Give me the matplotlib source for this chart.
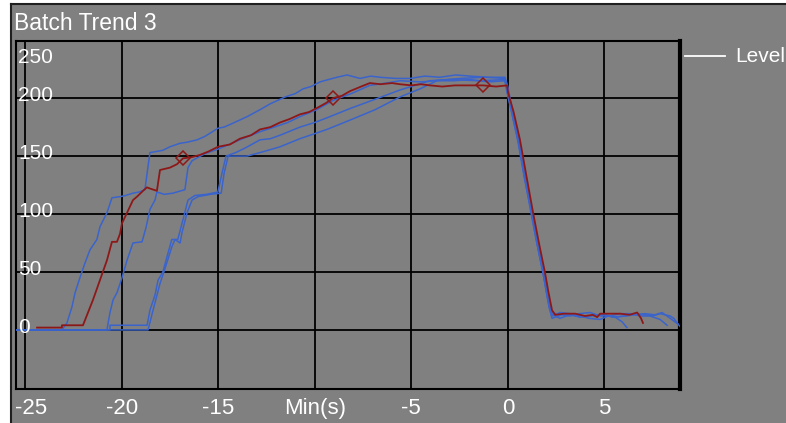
import matplotlib
matplotlib.use("Agg")
import matplotlib.pyplot as plt
from matplotlib.patches import Rectangle
from matplotlib.lines import Line2D
from matplotlib.transforms import blended_transform_factory

# ---- data -------------------------------------------------------------
title = "Batch Trend 3"
legend_label = "Level"

x_ticks = [-25, -20, -15, -10, -5, 0, 5]
x_labels = ["-25", "-20", "-15", "Min(s)", "-5", "0", "5"]
y_ticks = [0, 50, 100, 150, 200, 250]
y_labels = ["0", "50", "100", "150", "200", "250"]

# current batch (x in minutes, level)
red_pts = [(-24.39, 2), (-23.10, 2), (-23.10, 4), (-22.01, 4), (-21.75, 15), (-21.49, 26),
           (-21.13, 43), (-20.77, 60), (-20.51, 76), (-20.25, 76), (-20.09, 83), (-19.99, 92),
           (-19.73, 101), (-19.42, 112), (-19.21, 115), (-18.90, 120), (-18.70, 123), (-18.54, 122),
           (-18.18, 120), (-18.02, 138), (-17.51, 140), (-17.14, 143), (-16.83, 148), (-16.40, 149),
           (-15.95, 151), (-15.50, 154), (-15.02, 158), (-14.40, 160), (-13.88, 165), (-13.30, 168),
           (-12.84, 173), (-12.30, 175), (-11.80, 179), (-11.30, 182), (-10.77, 186), (-10.30, 188),
           (-9.83, 192), (-9.40, 196), (-9.06, 200), (-8.60, 202), (-8.18, 206), (-7.60, 210),
           (-7.15, 213), (-6.60, 212), (-6.00, 213), (-5.59, 212), (-5.00, 211), (-4.50, 212),
           (-4.03, 211), (-3.40, 210), (-2.74, 211), (-2.00, 211), (-1.28, 211), (-0.60, 210),
           (-0.04, 211), (0.01, 205), (0.30, 188), (0.63, 164), (0.95, 134), (1.31, 101),
           (1.60, 76), (1.93, 49), (2.10, 33), (2.29, 17), (2.45, 13), (2.90, 14), (3.49, 14),
           (4.00, 12), (4.40, 13), (4.63, 11), (4.78, 14), (5.30, 14), (5.82, 14), (6.30, 13),
           (6.70, 15), (6.90, 10), (7.00, 6)]
red_marks = [(-16.83, 148), (-9.06, 200), (-1.28, 211)]

# earlier batches
blue_a = [(-25.45, 0), (-23.10, 0), (-22.84, 6), (-22.58, 20), (-22.42, 32), (-22.17, 45),
          (-21.90, 58), (-21.65, 69), (-21.29, 78), (-21.13, 89), (-20.77, 101), (-20.51, 114),
          (-20.09, 115), (-19.80, 116), (-19.42, 118), (-19.10, 119), (-18.80, 121), (-18.69, 135),
          (-18.54, 153), (-18.20, 154), (-17.87, 155), (-17.51, 158), (-16.99, 161), (-16.60, 162),
          (-16.10, 164), (-15.69, 167), (-15.02, 174), (-14.70, 175), (-14.29, 178), (-13.90, 181),
          (-13.51, 184), (-12.84, 190), (-12.32, 195), (-11.54, 201), (-11.00, 204), (-10.61, 208),
          (-10.20, 210), (-9.73, 214), (-9.30, 216), (-8.85, 218), (-8.33, 220), (-7.66, 217),
          (-7.10, 219), (-6.62, 218), (-5.80, 217), (-5.07, 217), (-4.30, 219), (-3.51, 218),
          (-2.70, 220), (-1.96, 219), (-1.00, 218), (-0.15, 218), (0.00, 210), (0.53, 164),
          (0.85, 133), (1.20, 101), (1.50, 75), (1.82, 49), (2.00, 33), (2.19, 17), (2.34, 12),
          (2.70, 15), (3.22, 14), (3.70, 11), (4.26, 12), (4.98, 13), (5.50, 11), (6.07, 12),
          (6.60, 14), (7.11, 13), (7.50, 12), (7.89, 14), (8.41, 12), (8.60, 10), (8.77, 6),
          (8.92, 3)]
blue_b = [(-25.45, 0), (-20.77, 0), (-20.61, 15), (-20.45, 26), (-20.25, 32), (-19.99, 45),
          (-19.73, 60), (-19.42, 75), (-18.95, 76), (-18.75, 88), (-18.54, 104), (-18.28, 112),
          (-18.18, 119), (-17.80, 117), (-17.35, 118), (-16.73, 121), (-16.57, 140), (-16.36, 146),
          (-15.70, 152), (-15.02, 156), (-14.30, 161), (-13.60, 166), (-12.84, 171), (-12.10, 175),
          (-11.40, 179), (-10.77, 184), (-9.90, 190), (-9.06, 198), (-8.10, 204), (-7.15, 211),
          (-6.30, 213), (-5.59, 215), (-4.50, 214), (-3.00, 216), (-1.50, 215), (-0.15, 216),
          (-0.04, 205), (0.58, 160), (0.90, 130), (1.25, 100), (1.55, 72), (1.88, 45),
          (2.05, 28), (2.24, 14), (2.70, 10), (3.20, 13), (3.74, 12), (4.20, 10), (4.78, 9),
          (5.20, 12), (5.56, 11), (5.92, 7), (6.17, 2)]
blue_c = [(-25.45, 0), (-20.61, 0), (-20.61, 4), (-18.80, 4), (-18.69, 4), (-18.54, 17),
          (-18.28, 30), (-18.12, 43), (-17.87, 50), (-17.66, 63), (-17.41, 78), (-17.10, 78),
          (-16.83, 95), (-16.57, 112), (-16.21, 116), (-15.60, 117), (-15.02, 119), (-14.81, 135),
          (-14.60, 150), (-14.10, 153), (-13.60, 157), (-12.84, 164), (-12.30, 165), (-11.80, 168),
          (-10.77, 175), (-10.00, 179), (-9.37, 183), (-8.18, 191), (-6.88, 199), (-5.59, 207),
          (-4.81, 211), (-4.03, 215), (-3.20, 216), (-2.48, 217), (-1.20, 218), (-0.15, 217),
          (-0.09, 210), (0.53, 162), (0.85, 132), (1.20, 103), (1.50, 76), (1.82, 50),
          (2.13, 20), (2.29, 10), (2.80, 13), (3.22, 12), (3.70, 14), (4.26, 15), (4.80, 12),
          (5.30, 12), (5.80, 14), (6.33, 14), (6.90, 12), (7.37, 12), (7.89, 9), (8.25, 4)]
blue_d = [(-25.45, 0), (-18.64, 0), (-18.38, 17), (-18.02, 40), (-17.76, 53), (-17.40, 72),
          (-17.24, 78), (-16.98, 75), (-16.88, 84), (-16.62, 101), (-16.36, 112), (-16.05, 115),
          (-15.40, 117), (-14.85, 118), (-14.70, 135), (-14.49, 150), (-13.51, 150), (-12.84, 153),
          (-11.80, 158), (-10.77, 165), (-9.37, 173), (-8.18, 181), (-6.88, 190), (-5.59, 201),
          (-4.55, 208), (-3.67, 215), (-2.80, 215), (-1.96, 216), (-1.00, 214), (-0.15, 215),
          (-0.04, 208), (0.58, 163), (0.90, 132), (1.25, 102), (1.55, 74), (1.88, 48),
          (2.24, 16), (2.60, 13), (2.97, 14), (3.50, 12), (4.01, 11), (4.50, 13), (5.04, 13),
          (5.50, 11), (6.07, 12), (6.60, 13), (7.11, 14), (7.63, 13), (7.99, 15), (8.41, 10),
          (8.82, 5)]

# ---- style ------------------------------------------------------------
W, H = 786, 423
GRAY = "#808080"
BLUE = "#3a64cc"
RED = "#8e1818"
FONT = ["Liberation Sans", "DejaVu Sans"]

fig = plt.figure(figsize=(W / 100, H / 100), dpi=100, facecolor="white")

# panel background and its dark frame
fig.add_artist(Rectangle((11 / W, 0), 1 - 11 / W, 1 - 5 / H, transform=fig.transFigure,
                         facecolor=GRAY, edgecolor="none", zorder=0))
fig.add_artist(Line2D([11 / W, 11 / W], [0, 1 - 4.5 / H], transform=fig.transFigure,
                      color="#202020", lw=1.5))
fig.add_artist(Line2D([11 / W, 1], [1 - 4.5 / H, 1 - 4.5 / H], transform=fig.transFigure,
                      color="#202020", lw=1.5))

ax = fig.add_axes([16 / W, (H - 389) / H, (680 - 16) / W, (389 - 41) / H])
ax.set_facecolor(GRAY)
ax.set_xlim(-25.48, 8.92)
ax.set_ylim(-51, 249.3)

ax.set_xticks(x_ticks)
ax.set_yticks(y_ticks[:-1])
ax.grid(True, color="black", lw=1.3)
ax.tick_params(length=0, labelbottom=False, labelleft=False)
for side, sp in ax.spines.items():
    sp.set_color("black")
    sp.set_linewidth(1.5)
ax.spines["right"].set_linewidth(3)

for pts in (blue_a, blue_b, blue_c, blue_d):
    xs, ys = zip(*pts)
    ax.plot(xs, ys, color=BLUE, lw=1.1, zorder=3)
rx, ry = zip(*red_pts)
ax.plot(rx, ry, color=RED, lw=1.3, zorder=4)
mx, my = zip(*red_marks)
ax.plot(mx, my, ls="none", marker="D", ms=7, mfc="none", mec=RED, mew=1.1, zorder=5)

# axis labels
for v, lab in zip(x_ticks, x_labels):
    ha = "left" if v == x_ticks[0] else "center"
    xv = ax.get_xlim()[0] - 0.05 if v == x_ticks[0] else v
    ax.text(xv, -58.5, lab, transform=ax.transData, ha=ha, va="top",
            color="white", fontsize=16, family=FONT, clip_on=False)

ytrans = blended_transform_factory(ax.transAxes, ax.transData)
for v, lab in zip(y_ticks, y_labels):
    yv = 235 if v == y_ticks[-1] else v + 2
    ax.text(0.003, yv, lab, transform=ytrans, ha="left", va="center",
            color="white", fontsize=15, family=FONT)

fig.text(14 / W, 1 - 30 / H, title, ha="left", va="baseline", color="white",
         fontsize=16.5, family=FONT)

# legend
fig.add_artist(Line2D([685 / W, 725 / W], [1 - 56 / H, 1 - 56 / H], transform=fig.transFigure,
                      color="white", lw=1.3))
fig.text(735 / W, 1 - 56 / H, legend_label, ha="left", va="center", color="white",
         fontsize=15, family=FONT)

fig.savefig("out.png", dpi=100, facecolor=fig.get_facecolor())
